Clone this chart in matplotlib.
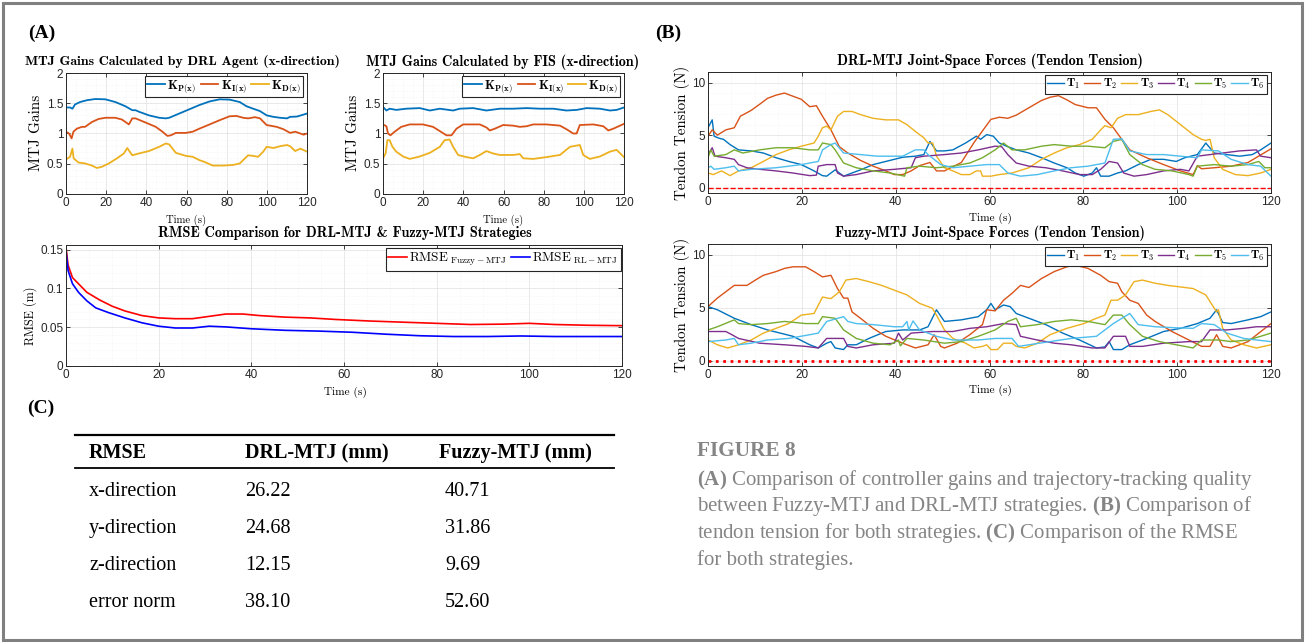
import matplotlib
matplotlib.use('Agg')
import matplotlib.pyplot as plt
import matplotlib.patches as mpatches
from matplotlib.ticker import AutoMinorLocator
import numpy as np

plt.rcParams.update({
    'font.family': 'Liberation Sans',
    'mathtext.fontset': 'cm',
    'mathtext.rm': 'Liberation Serif',
    'mathtext.bf': 'Liberation Serif:bold',
})

# ---------------- data (time s, value) ----------------
time_ticks = [0, 20, 40, 60, 80, 100, 120]

# (A) MTJ gains from the DRL agent
drl_kp = [(0, 1.43), (2.0, 1.43), (3.2, 1.41), (4.5, 1.48), (7.0, 1.52), (10.4, 1.55), (14.6, 1.57), (19.6, 1.565),
          (24.6, 1.52), (29.6, 1.45), (33.0, 1.385), (34.6, 1.385), (36.3, 1.36), (41.3, 1.30), (46.4, 1.26),
          (49.7, 1.25), (51.4, 1.26), (56.4, 1.33), (61.4, 1.40), (66.4, 1.47), (71.5, 1.53), (76.5, 1.565),
          (81.5, 1.56), (86.5, 1.52), (89.9, 1.45), (93.2, 1.41), (96.6, 1.37), (99.9, 1.30), (103.3, 1.275),
          (106.6, 1.26), (110.0, 1.25), (111.6, 1.275), (115.0, 1.28), (120, 1.33)]
drl_ki = [(0, 1.03), (1.5, 1.0), (2.8, 0.92), (3.7, 1.03), (5.4, 1.08), (7.9, 1.11), (9.5, 1.11), (12.9, 1.19),
          (16.2, 1.24), (19.6, 1.26), (24.6, 1.26), (27.9, 1.23), (29.6, 1.19), (31.3, 1.15), (33.0, 1.25),
          (34.6, 1.25), (39.7, 1.18), (44.7, 1.11), (48.0, 1.03), (50.5, 0.96), (52.2, 0.97), (54.7, 1.01),
          (59.7, 1.01), (63.1, 1.03), (66.4, 1.08), (71.5, 1.15), (76.5, 1.22), (81.5, 1.285), (84.9, 1.29),
          (88.2, 1.26), (90.7, 1.25), (94.1, 1.27), (96.6, 1.25), (99.9, 1.14), (104.9, 1.11), (108.3, 1.07),
          (111.6, 1.01), (114.1, 1.03), (116.7, 1.0), (118.3, 0.98), (120, 1.0)]
drl_kd = [(0, 0.57), (2.0, 0.615), (3.2, 0.75), (3.8, 0.59), (6.2, 0.52), (9.5, 0.505), (12.9, 0.47), (15.4, 0.43),
          (17.9, 0.45), (21.3, 0.505), (25.4, 0.59), (28.8, 0.67), (30.5, 0.76), (33.0, 0.64), (36.3, 0.67),
          (41.3, 0.71), (46.4, 0.78), (49.7, 0.835), (51.4, 0.82), (54.7, 0.68), (59.7, 0.63), (63.1, 0.615),
          (66.4, 0.56), (69.0, 0.53), (73.1, 0.47), (78.2, 0.47), (83.2, 0.48), (86.5, 0.505), (90.7, 0.64),
          (93.2, 0.63), (95.7, 0.615), (98.2, 0.70), (99.9, 0.78), (103.3, 0.76), (106.6, 0.79), (110.0, 0.81),
          (111.6, 0.79), (114.1, 0.71), (116.7, 0.75), (120, 0.70)]

# (A) MTJ gains from the FIS
fis_kp = [(0, 1.44), (1.7, 1.38), (3.3, 1.41), (6.6, 1.39), (11.6, 1.41), (18.3, 1.42), (23.3, 1.38), (28.3, 1.41),
          (34.9, 1.38), (38.2, 1.41), (44.9, 1.42), (51.5, 1.38), (58.2, 1.41), (64.8, 1.41), (71.5, 1.42),
          (78.1, 1.41), (84.8, 1.41), (91.4, 1.38), (96.4, 1.39), (101.4, 1.42), (108.0, 1.41), (113.0, 1.38),
          (116.3, 1.39), (120, 1.43)]
fis_ki = [(0, 1.15), (1.7, 1.12), (2.5, 1.0), (3.7, 0.97), (5.8, 1.03), (9.1, 1.11), (13.3, 1.15), (19.9, 1.15),
          (24.9, 1.11), (28.3, 1.04), (31.6, 0.97), (34.1, 0.97), (36.6, 1.08), (39.9, 1.15), (48.2, 1.15),
          (51.5, 1.10), (53.2, 1.05), (55.7, 1.08), (59.8, 1.14), (64.8, 1.13), (68.1, 1.11), (71.5, 1.12),
          (74.8, 1.15), (81.4, 1.15), (88.1, 1.13), (91.4, 1.07), (94.7, 1.0), (96.4, 1.0), (98.0, 1.14),
          (104.7, 1.15), (109.7, 1.12), (112.2, 1.05), (114.7, 1.08), (120, 1.16)]
fis_kd = [(0, 0.59), (1.3, 0.67), (2.2, 0.89), (3.3, 0.89), (4.7, 0.78), (6.6, 0.70), (10.0, 0.62), (13.3, 0.58),
          (18.3, 0.62), (23.3, 0.68), (28.3, 0.78), (30.7, 0.89), (33.2, 0.90), (34.9, 0.78), (37.4, 0.645),
          (41.5, 0.61), (44.9, 0.59), (48.2, 0.645), (51.5, 0.71), (54.8, 0.67), (58.2, 0.645), (64.8, 0.645),
          (68.1, 0.66), (69.8, 0.59), (74.8, 0.58), (81.4, 0.61), (88.1, 0.645), (93.1, 0.78), (98.0, 0.81),
          (99.7, 0.645), (103.0, 0.58), (108.0, 0.62), (113.0, 0.70), (116.3, 0.73), (120, 0.61)]

# (A) RMSE (m)
rmse_fuzzy = [(0, 0.153), (0.45, 0.13), (1.4, 0.114), (2.7, 0.106), (4.5, 0.095), (7.3, 0.085), (10.0, 0.077),
              (12.7, 0.071), (16.4, 0.065), (20.0, 0.062), (23.6, 0.061), (27.3, 0.061), (30.9, 0.064),
              (34.5, 0.067), (38.2, 0.067), (41.8, 0.065), (47.3, 0.063), (52.7, 0.062), (58.2, 0.060),
              (65.5, 0.058), (72.7, 0.0565), (80.0, 0.055), (87.3, 0.0535), (94.5, 0.054), (100.0, 0.055),
              (105.5, 0.0535), (112.7, 0.0525), (120, 0.052)]
rmse_drl = [(0, 0.149), (0.45, 0.123), (1.4, 0.106), (2.7, 0.095), (4.5, 0.084), (6.4, 0.075), (9.1, 0.069),
            (12.7, 0.062), (16.4, 0.0557), (20.0, 0.0513), (23.6, 0.049), (27.3, 0.049), (30.9, 0.0513),
            (34.5, 0.0504), (40.0, 0.048), (47.3, 0.046), (54.5, 0.045), (61.8, 0.0435), (69.1, 0.041),
            (76.4, 0.039), (83.6, 0.038), (90.9, 0.038), (98.2, 0.0387), (105.5, 0.038), (112.7, 0.038),
            (120, 0.038)]

# (B) tendon tensions (N), DRL-MTJ
drl_T1 = [(0, 5.7), (0.9, 6.45), (1.3, 4.9), (2.4, 4.7), (3.3, 4.6), (4.7, 4.1), (6.5, 3.6), (9.2, 3.5), (11.8, 3.3),
          (14.5, 2.85), (17.2, 2.5), (19.9, 2.2), (22.6, 1.6), (24.4, 1.15), (25.3, 1.1), (27.1, 1.7), (28.9, 1.1),
          (32.5, 1.7), (35.2, 2.2), (37.9, 2.5), (41.5, 2.9), (44.2, 3.0), (46.0, 3.15), (47.3, 4.4), (48.7, 3.5),
          (50.4, 3.5), (52.2, 3.6), (54.9, 4.25), (57.2, 4.9), (58.1, 4.6), (59.4, 5.05), (60.8, 4.9), (62.1, 4.25),
          (63.9, 3.9), (65.7, 3.6), (68.4, 3.3), (71.1, 2.85), (73.8, 2.35), (76.5, 1.9), (78.3, 1.4), (80.1, 1.1),
          (81.9, 1.4), (82.8, 1.9), (83.7, 1.1), (85.5, 1.1), (87.3, 1.4), (89.0, 1.6), (91.7, 2.2), (94.4, 2.7),
          (97.1, 2.7), (99.8, 2.5), (101.6, 2.85), (104.3, 3.15), (106.1, 4.25), (107.9, 3.3), (110.6, 3.15),
          (113.3, 3.0), (116.0, 3.15), (117.8, 3.6), (120, 4.25)]
drl_T2 = [(0, 4.9), (0.9, 5.5), (2.0, 5.0), (3.8, 5.5), (5.6, 5.7), (6.9, 6.8), (9.2, 7.35), (10.9, 7.9), (12.7, 8.5),
          (14.5, 8.8), (16.3, 9.0), (18.1, 8.7), (19.9, 8.4), (21.7, 7.7), (23.1, 7.8), (24.4, 6.8), (26.2, 5.5),
          (28.0, 3.9), (29.8, 3.3), (32.5, 2.6), (35.2, 2.05), (37.9, 1.6), (39.7, 1.25), (41.5, 1.25), (43.3, 1.6),
          (45.1, 2.1), (47.3, 2.4), (48.7, 1.6), (50.4, 1.6), (54.0, 2.4), (56.7, 4.3), (58.5, 5.4), (60.3, 6.5),
          (62.1, 6.7), (63.9, 6.6), (65.7, 6.9), (68.4, 7.6), (71.1, 8.3), (72.9, 8.6), (74.7, 8.75), (76.5, 8.35),
          (78.3, 7.9), (81.0, 7.6), (82.8, 7.6), (84.6, 6.5), (86.4, 5.7), (88.2, 4.6), (89.9, 3.6), (93.5, 2.85),
          (97.1, 2.2), (100.7, 1.6), (103.4, 1.25), (104.3, 2.1), (105.2, 1.8), (107.9, 1.9), (111.5, 2.05),
          (115.1, 2.4), (120, 3.7)]
drl_T3 = [(0, 1.4), (1.1, 1.25), (2.9, 1.6), (4.7, 1.15), (6.5, 1.6), (9.2, 1.9), (11.8, 2.5), (14.5, 3.15),
          (17.2, 3.6), (19.9, 3.95), (22.6, 4.25), (23.5, 4.9), (24.4, 5.7), (25.3, 5.85), (26.2, 5.5), (27.6, 6.8),
          (28.9, 7.25), (30.7, 7.25), (32.5, 6.95), (35.2, 6.6), (37.9, 6.45), (40.6, 6.45), (42.4, 6.0),
          (44.2, 5.35), (46.0, 4.75), (46.9, 4.25), (47.9, 4.25), (48.7, 3.0), (50.4, 1.9), (52.2, 1.6),
          (54.0, 1.25), (55.8, 1.25), (57.2, 1.6), (58.1, 1.6), (58.5, 1.1), (60.3, 1.1), (62.1, 1.25), (64.8, 1.4),
          (68.4, 1.9), (71.1, 2.7), (73.8, 3.3), (76.5, 3.8), (79.2, 4.1), (81.9, 4.6), (83.7, 5.5), (84.6, 5.9),
          (85.9, 5.7), (87.3, 6.6), (89.0, 6.95), (91.7, 6.95), (94.4, 7.25), (96.2, 7.4), (98.0, 6.95),
          (100.7, 6.0), (103.4, 5.05), (105.2, 4.6), (106.1, 4.5), (107.0, 4.6), (107.9, 2.85), (109.7, 1.75),
          (112.4, 1.25), (115.1, 1.15), (117.8, 1.4), (120, 1.75)]
drl_T4 = [(0, 3.15), (0.9, 3.8), (1.5, 3.0), (3.8, 2.85), (5.6, 2.7), (6.5, 2.2), (8.3, 1.9), (11.0, 1.75),
          (14.5, 1.6), (18.1, 1.4), (21.7, 1.15), (23.1, 1.2), (23.5, 2.05), (25.3, 2.2), (27.1, 2.2), (27.6, 1.4),
          (28.9, 1.1), (31.6, 1.25), (35.2, 1.6), (39.7, 1.75), (43.3, 1.9), (44.2, 2.85), (46.0, 3.0), (50.4, 3.15),
          (54.0, 3.3), (57.6, 3.6), (61.2, 3.95), (62.6, 3.9), (63.9, 3.15), (65.7, 2.35), (68.4, 2.05), (72.0, 1.9),
          (75.6, 1.6), (79.2, 1.25), (81.9, 1.25), (83.7, 1.75), (85.5, 2.5), (87.3, 2.35), (88.6, 1.4),
          (90.8, 1.1), (93.5, 1.25), (97.1, 1.6), (100.7, 1.75), (102.5, 1.6), (104.3, 3.0), (107.0, 3.15),
          (109.7, 3.3), (113.3, 3.5), (116.9, 3.6), (117.8, 3.0), (120, 2.85)]
drl_T5 = [(0, 2.85), (0.6, 3.6), (1.3, 3.0), (3.8, 3.15), (5.6, 3.6), (7.4, 3.3), (11.0, 3.6), (14.5, 3.8),
          (18.1, 3.8), (21.7, 3.6), (23.5, 3.6), (24.4, 4.25), (26.2, 4.1), (27.1, 3.6), (28.9, 2.35), (31.6, 1.9),
          (35.2, 1.6), (38.8, 1.4), (41.9, 1.1), (42.4, 1.9), (45.1, 2.05), (48.7, 1.9), (52.2, 2.05), (55.8, 2.35),
          (58.5, 2.85), (61.2, 3.6), (63.0, 4.25), (64.8, 3.6), (67.5, 3.6), (71.1, 3.95), (73.8, 4.1), (77.4, 3.95),
          (81.0, 3.95), (84.6, 3.8), (86.4, 4.4), (88.2, 4.6), (89.9, 3.15), (92.6, 2.2), (95.3, 1.75), (98.9, 1.6),
          (102.5, 1.25), (103.4, 1.1), (104.3, 2.05), (107.9, 2.2), (111.5, 2.05), (115.1, 2.2), (117.4, 2.5),
          (118.7, 1.9), (120, 1.9)]
drl_T6 = [(0, 1.9), (0.6, 2.05), (1.3, 1.75), (3.8, 1.9), (5.6, 2.05), (6.5, 1.6), (9.2, 1.75), (14.5, 1.9),
          (19.9, 2.2), (23.5, 2.5), (24.4, 3.6), (26.2, 4.1), (27.1, 4.25), (28.9, 3.3), (32.5, 3.15), (36.1, 3.0),
          (41.5, 3.0), (44.2, 3.6), (46.0, 3.6), (46.9, 3.15), (49.6, 2.2), (52.2, 1.9), (55.8, 2.05), (59.4, 2.2),
          (62.1, 2.2), (63.9, 1.4), (66.6, 1.1), (70.2, 1.25), (73.8, 1.6), (77.4, 1.9), (81.0, 2.05), (84.6, 2.35),
          (86.4, 4.6), (88.2, 4.65), (89.9, 3.5), (93.5, 3.15), (97.1, 3.15), (100.7, 3.0), (104.3, 2.85),
          (105.2, 3.6), (108.8, 3.5), (111.5, 2.7), (115.1, 2.2), (117.8, 2.05), (120, 1.1)]

# (B) tendon tensions (N), Fuzzy-MTJ
fuz_T1 = [(0, 5.1), (2.0, 4.8), (5.6, 4.0), (9.2, 3.4), (12.7, 2.9), (15.4, 2.6), (18.1, 2.3), (21.7, 1.5),
          (23.5, 1.2), (25.3, 1.65), (26.2, 1.8), (27.1, 1.2), (28.9, 1.05), (29.8, 1.5), (31.6, 1.5), (34.3, 2.1),
          (37.9, 2.75), (41.5, 2.9), (45.1, 2.9), (46.9, 3.2), (48.7, 4.8), (49.6, 4.2), (50.4, 3.7), (54.0, 3.85),
          (57.6, 4.15), (59.4, 4.8), (60.3, 5.4), (61.2, 4.8), (63.0, 5.25), (64.4, 5.1), (65.7, 4.45), (68.4, 4.0),
          (72.0, 3.4), (75.6, 2.6), (79.2, 1.95), (82.8, 1.2), (84.6, 1.3), (85.5, 1.8), (86.4, 1.05), (88.2, 1.05),
          (89.9, 1.5), (93.5, 2.1), (97.1, 2.75), (100.7, 3.05), (104.3, 3.5), (107.0, 4.0), (108.4, 4.8),
          (109.7, 3.6), (111.5, 3.5), (115.1, 3.85), (117.8, 4.15), (120, 4.6)]
fuz_T2 = [(0, 5.1), (2.0, 5.9), (3.8, 6.5), (5.6, 7.1), (8.3, 7.1), (10.1, 7.6), (11.8, 8.05), (14.5, 8.4),
          (16.3, 8.7), (18.1, 8.85), (20.8, 8.85), (22.6, 8.4), (24.4, 7.9), (26.2, 8.05), (27.6, 6.8), (28.9, 5.9),
          (29.8, 5.9), (30.7, 4.6), (32.5, 4.0), (35.2, 3.05), (37.9, 2.3), (41.5, 1.65), (44.2, 1.2), (46.9, 1.5),
          (48.2, 2.45), (49.6, 1.35), (50.4, 1.2), (53.1, 1.65), (55.8, 2.45), (58.5, 3.4), (59.4, 4.8), (61.2, 4.7),
          (63.0, 5.7), (64.8, 6.35), (66.6, 7.1), (68.4, 6.9), (71.1, 7.75), (73.8, 8.4), (76.5, 8.85), (78.3, 9.0),
          (81.0, 8.7), (83.7, 8.05), (85.5, 7.45), (87.3, 7.3), (88.2, 6.5), (89.9, 5.7), (91.7, 5.4), (93.5, 4.3),
          (95.3, 3.7), (98.9, 2.75), (102.5, 1.95), (105.2, 1.35), (107.0, 1.35), (108.4, 2.45), (109.7, 1.35),
          (111.5, 1.2), (115.1, 1.8), (120, 3.5)]
fuz_T3 = [(0, 1.95), (2.0, 1.5), (4.2, 1.2), (6.5, 1.5), (9.2, 1.95), (11.8, 2.6), (14.5, 3.05), (17.2, 3.5),
          (19.9, 4.3), (22.6, 4.45), (24.4, 6.0), (26.2, 5.85), (28.0, 6.5), (29.4, 7.6), (31.6, 7.75), (34.3, 7.45),
          (37.0, 7.1), (39.7, 6.65), (42.4, 6.2), (45.1, 5.4), (47.8, 4.95), (48.7, 4.3), (50.4, 2.9), (52.2, 2.1),
          (54.9, 1.65), (56.7, 1.2), (58.5, 1.35), (59.4, 1.5), (60.3, 1.05), (61.7, 1.05), (63.0, 1.65),
          (64.8, 1.65), (65.7, 1.35), (67.5, 1.2), (70.2, 1.65), (72.9, 2.45), (76.5, 3.05), (80.1, 3.5), (82.8, 4.0),
          (84.6, 4.3), (85.9, 5.7), (87.3, 5.7), (89.0, 6.2), (90.8, 7.45), (92.6, 7.6), (95.3, 7.3), (98.0, 7.1),
          (100.7, 6.95), (103.4, 6.8), (106.1, 6.2), (108.4, 4.6), (108.8, 4.8), (109.7, 3.05), (111.5, 1.95),
          (114.2, 1.5), (116.9, 1.2), (120, 1.5)]
fuz_T4 = [(0, 2.75), (3.8, 2.75), (5.1, 2.45), (6.5, 2.1), (11.0, 1.65), (16.3, 1.5), (20.8, 1.35), (23.5, 1.2),
          (25.3, 2.1), (28.9, 2.1), (29.8, 1.35), (31.6, 1.2), (35.2, 1.5), (39.7, 1.65), (40.6, 2.6), (41.5, 1.95),
          (43.3, 2.6), (47.8, 2.75), (52.2, 2.75), (55.8, 3.05), (59.4, 3.2), (63.0, 3.5), (65.7, 3.4), (66.6, 2.3),
          (70.2, 1.95), (73.8, 1.65), (77.4, 1.5), (81.9, 1.2), (84.6, 1.2), (86.4, 2.3), (89.0, 2.3), (89.9, 1.35),
          (92.6, 1.35), (97.1, 1.65), (102.5, 1.8), (105.2, 1.8), (107.0, 2.9), (110.6, 2.9), (114.2, 3.05),
          (116.9, 3.2), (120, 3.2)]
fuz_T5 = [(0, 2.9), (2.0, 3.2), (5.6, 3.85), (6.5, 3.5), (9.2, 3.4), (12.7, 3.5), (16.3, 3.7), (20.8, 3.5),
          (23.5, 3.5), (24.4, 4.15), (27.1, 4.0), (28.9, 2.9), (31.6, 2.1), (35.2, 1.65), (38.8, 1.5), (40.6, 1.95),
          (41.0, 1.4), (42.4, 2.1), (46.0, 1.95), (50.4, 1.65), (54.0, 1.8), (57.6, 2.3), (61.2, 2.9), (63.9, 3.7),
          (65.7, 4.0), (66.6, 3.2), (70.2, 3.4), (73.8, 3.7), (77.4, 3.85), (81.0, 3.7), (84.6, 3.4), (86.4, 4.3),
          (88.2, 4.3), (89.9, 3.4), (92.6, 2.3), (96.2, 1.8), (99.8, 1.5), (103.4, 1.2), (105.2, 1.95), (108.8, 1.95),
          (111.5, 1.8), (115.1, 1.95), (117.8, 2.3), (120, 2.6)]
fuz_T6 = [(0, 1.8), (3.8, 1.95), (5.6, 2.1), (6.5, 1.5), (9.2, 1.65), (12.7, 1.95), (17.2, 2.1), (21.7, 2.45),
          (23.5, 2.6), (25.3, 3.7), (28.9, 4.15), (29.8, 3.7), (31.6, 3.5), (35.2, 3.4), (39.7, 3.2), (41.5, 3.2),
          (42.4, 3.7), (42.8, 2.9), (43.7, 3.75), (45.1, 2.9), (48.7, 2.3), (52.2, 1.95), (57.6, 1.95), (61.2, 2.1),
          (64.8, 2.1), (66.2, 1.35), (68.4, 1.5), (72.9, 1.8), (77.4, 2.1), (82.8, 2.3), (86.4, 3.5), (89.9, 4.45),
          (91.7, 3.4), (95.3, 3.2), (99.8, 3.1), (103.4, 3.05), (105.2, 3.5), (107.9, 3.4), (110.6, 2.6),
          (114.2, 2.1), (116.9, 1.95), (120, 1.8)]

# (C) table
tab_head = ['RMSE', 'DRL-MTJ (mm)', 'Fuzzy-MTJ (mm)']
tab_rows = ['x-direction', 'y-direction', 'z-direction', 'error norm']
tab_drl = ['26.22', '24.68', '12.15', '38.10']
tab_fuzzy = ['40.71', '31.86', '9.69', '52.60']

caption_lines = [
    r'$\mathbf{(A)}$ Comparison of controller gains and trajectory-tracking quality',
    r'between Fuzzy-MTJ and DRL-MTJ strategies. $\mathbf{(B)}$ Comparison of',
    r'tendon tension for both strategies. $\mathbf{(C)}$ Comparison of the RMSE',
    r'for both strategies.',
]

gain_labels = [r'$\mathbf{K_{P(x)}}$', r'$\mathbf{K_{I(x)}}$', r'$\mathbf{K_{D(x)}}$']
tension_labels = [r'$\mathbf{T_%d}$' % i for i in range(1, 7)]
mat_colors = ['#0072BD', '#D95319', '#EDB120', '#7E2F8E', '#77AC30', '#4DBEEE']
gray = '#858585'
ink = '#262626'

# ---------------- figure ----------------
W, H = 1311, 642
fig = plt.figure(figsize=(W / 100, H / 100), dpi=100)
rend = fig.canvas.get_renderer()


def xy(pts):
    a = np.array(pts)
    return a[:, 0], a[:, 1]


def txt(x, y, s, size, width=None, **kw):
    # place text at pixel position; optionally scale the font to a target width
    t = fig.text(x / W, 1 - y / H, s, fontsize=size, **kw)
    if width:
        bb = t.get_window_extent(renderer=rend)
        t.set_fontsize(size * width / bb.width)
    return t


def make_ax(l, t, r, b):
    ax = fig.add_axes([l / W, 1 - b / H, (r - l) / W, (b - t) / H])
    ax.set_xlim(0, 120)
    ax.set_xticks(time_ticks)
    ax.xaxis.set_minor_locator(AutoMinorLocator(4))
    ax.yaxis.set_minor_locator(AutoMinorLocator(5))
    ax.grid(True, which='major', color='#e0e0e0', lw=0.5)
    ax.grid(True, which='minor', color='#eeeeee', lw=0.4, ls=':')
    ax.set_axisbelow(True)
    ax.tick_params(which='both', direction='in', top=True, right=True, colors=ink, labelsize=8.5, pad=2)
    ax.tick_params(which='major', length=3, width=0.6)
    ax.tick_params(which='minor', length=0)
    for s in ax.spines.values():
        s.set_linewidth(0.7)
        s.set_color(ink)
    return ax


def legend(ax, ncol, anchor, fs=9, colsp=0.35):
    lg = ax.legend(ncol=ncol, loc='upper right', bbox_to_anchor=anchor, borderaxespad=0, fancybox=False,
                   edgecolor=ink, framealpha=1, fontsize=fs, handlelength=1.4, handletextpad=0.2,
                   columnspacing=colsp, borderpad=0.2, labelspacing=0.1)
    lg.get_frame().set_linewidth(0.8)
    return lg


# --- (A) gains ---
for (l, r), series, title, tw, tx in [((66, 307), (drl_kp, drl_ki, drl_kd),
                                       'MTJ Gains Calculated by DRL Agent (x-direction)', 315, 182),
                                      ((383, 624), (fis_kp, fis_ki, fis_kd),
                                       'MTJ Gains Calculated by FIS (x-direction)', 273, 503)]:
    ax = make_ax(l, 73, r, 194)
    for pts, c, lab in zip(series, mat_colors, gain_labels):
        ax.plot(*xy(pts), color=c, lw=1.3, label=lab)
    ax.set_ylim(0, 2)
    ax.set_yticks([0, 0.5, 1, 1.5, 2], ['0', '0.5', '1', '1.5', '2'])
    legend(ax, 3, (0.985, 0.975))
    txt(tx, 62, title, 8, width=tw, ha='center', va='center', family='cmb10')
    txt(l - 30, 133, 'MTJ Gains', 11, rotation=90, ha='center', va='center', family='cmr10')
    txt((l + r) / 2, 220, 'Time (s)', 6, width=40, ha='center', va='center', family='cmr10')

# --- (A) RMSE ---
ax = make_ax(66, 245, 622, 366)
ax.plot(*xy(rmse_fuzzy), color='#ff0000', lw=1.2, label=r'$\mathrm{RMSE}_{\ \mathrm{Fuzzy-MTJ}}$')
ax.plot(*xy(rmse_drl), color='#0000ff', lw=1.2, label=r'$\mathrm{RMSE}_{\ \mathrm{RL-MTJ}}$')
ax.set_ylim(0, 0.156)
ax.set_yticks([0, 0.05, 0.1, 0.15], ['0', '0.05', '0.1', '0.15'])
legend(ax, 2, (0.998, 0.975), fs=9.5)
txt(345, 233, 'RMSE Comparison for DRL-MTJ & Fuzzy-MTJ Strategies', 8, width=373, ha='center', va='center',
    family='cmb10')
txt(30, 316, 'RMSE (m)', 8.8, rotation=90, ha='center', va='center', family='cmr10')
txt(345, 392, 'Time (s)', 6, width=42, ha='center', va='center', family='cmr10')

# --- (B) tendon tension ---
for (t, b), series, title, tw, ls, lw, ty, xl_y in [
        ((72, 193), (drl_T1, drl_T2, drl_T3, drl_T4, drl_T5, drl_T6),
         'DRL-MTJ Joint-Space Forces (Tendon Tension)', 305, '--', 1.0, 61, 218),
        ((244, 366), (fuz_T1, fuz_T2, fuz_T3, fuz_T4, fuz_T5, fuz_T6),
         'Fuzzy-MTJ Joint-Space Forces (Tendon Tension)', 310, ':', 2.0, 233, 390)]:
    ax = make_ax(708, t, 1271, b)
    for pts, c, lab in zip(series, mat_colors, tension_labels):
        ax.plot(*xy(pts), color=c, lw=1.0, label=lab)
    ax.axhline(0, color='#ff0000', ls=ls, lw=lw)
    ax.set_ylim(-0.5, 11)
    ax.set_yticks([0, 5, 10], ['0', '5', '10'])
    legend(ax, 6, (0.993, 0.975), fs=8.5, colsp=0.3)
    txt(990, ty, title, 8, width=tw, ha='center', va='center', family='cmb10')
    txt(682, (t + b) / 2, 'Tendon Tension (N)', 10.8, rotation=90, ha='center', va='center', family='cmr10')
    txt(990, xl_y, 'Time (s)', 6, width=42, ha='center', va='center', family='cmr10')

# --- panel letters ---
for x, y, s in [(28, 38, '(A)'), (655, 38, '(B)'), (27, 413, '(C)')]:
    txt(x, y, s, 14, ha='left', va='baseline', family='Liberation Serif', fontweight='bold', color='black')

# --- (C) table ---
col_x = [89, 245, 439]
for x, s in zip(col_x, tab_head):
    txt(x, 458, s, 14.5, ha='left', va='baseline', family='Liberation Serif', fontweight='bold', color='black')
for i, (a, b_, c) in enumerate(zip(tab_rows, tab_drl, tab_fuzzy)):
    yb = 496 + i * 37
    txt(89, yb, a, 14.5, ha='left', va='baseline', family='Liberation Serif', color='black')
    txt(245, yb, b_, 14.5, ha='left', va='baseline', family='Liberation Serif', color='black')
    txt(445, yb, c, 14.5, ha='left', va='baseline', family='Liberation Serif', color='black')
for y, lw in [(435, 1.6), (468, 1.3)]:
    fig.add_artist(plt.Line2D([75 / W, 614 / W], [1 - y / H, 1 - y / H], color='black', lw=lw))

# --- caption ---
txt(697, 456, 'FIGURE 8', 12, width=98, ha='left', va='baseline', family='Liberation Serif',
    fontweight='bold', color=gray)
cap = txt(697, 485, caption_lines[0], 14, width=557, ha='left', va='baseline', family='Liberation Serif',
          color=gray, math_fontfamily='custom')
for i, s in enumerate(caption_lines[1:], start=1):
    txt(697, 485 + 26.5 * i, s, cap.get_fontsize(), ha='left', va='baseline', family='Liberation Serif',
        color=gray, math_fontfamily='custom')

# --- outer frame ---
fig.add_artist(mpatches.Rectangle((3 / W, 2 / H), 1299 / W, 637 / H, transform=fig.transFigure,
                                  fill=False, edgecolor='#808080', lw=2.2))

fig.savefig('out.png', dpi=100)
